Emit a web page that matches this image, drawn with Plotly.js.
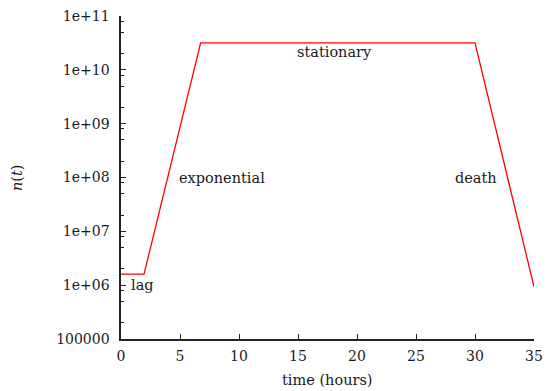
<!DOCTYPE html>
<html>
<head>
<meta charset="utf-8">
<script src="https://cdn.plot.ly/plotly-3.0.1.min.js"></script>
<style>html,body{margin:0;padding:0;background:#fff;}#chart{width:548px;height:391px;}</style>
</head>
<body>
<div id="chart"></div>
<script>
// Growth curve phases (time in hours, population n(t))
const timeHours = [0, 1.95, 6.75, 30, 35];
const population = [1.6e6, 1.6e6, 3.16e10, 3.16e10, 9.3e5];

const xTickVals = [0, 5, 10, 15, 20, 25, 30, 35];
const yTickVals = [1e5, 1e6, 1e7, 1e8, 1e9, 1e10, 1e11];
const yTickText = ['100000', '1e+06', '1e+07', '1e+08', '1e+09', '1e+10', '1e+11'];

const phaseLabels = ['lag', 'exponential', 'stationary', 'death'];
const phaseLabelX = [1.8, 8.6, 18.1, 30.1];
const phaseLabelY = [1e6, 1e8, 2.1e10, 1e8];

const minorVals = [];
for (let e = 5; e < 11; e++) { [2, 5, 8].forEach(m => minorVals.push(m * Math.pow(10, e))); }

const FONT = "DejaVu Serif";
const TXT = '#1a1a1a';

const annotations = phaseLabels.map((t, i) => ({
  x: phaseLabelX[i], y: Math.log10(phaseLabelY[i]), xref: 'x', yref: 'y',
  text: t, showarrow: false, xanchor: 'center', yanchor: 'middle',
  font: {family: FONT, size: 14.5, color: TXT}
}));
annotations.push({
  xref: 'paper', yref: 'paper', x: -(121 - 16.5) / 413, y: 0.5,
  text: '<i>n</i>(<i>t</i>)', textangle: -90, showarrow: false,
  xanchor: 'center', yanchor: 'middle', font: {family: FONT, size: 14.5, color: TXT}
});
annotations.push({
  xref: 'paper', yref: 'paper', x: 0.5, y: -(380 - 339) / 323,
  text: 'time (hours)', showarrow: false,
  xanchor: 'center', yanchor: 'middle', font: {family: FONT, size: 14.5, color: TXT}
});

const trace = {
  x: timeHours, y: population, type: 'scatter', mode: 'lines',
  line: {color: '#ff0000', width: 1.3}, hoverinfo: 'skip'
};

const layout = {
  width: 548, height: 391,
  margin: {l: 121, r: 14, t: 16, b: 52, pad: 0},
  paper_bgcolor: '#fff', plot_bgcolor: '#fff',
  showlegend: false,
  font: {family: FONT, color: TXT},
  xaxis: {
    range: [0, 35], tickmode: 'array', tickvals: xTickVals,
    ticks: 'inside', ticklen: 5, tickwidth: 1, tickcolor: '#222',
    showline: true, linecolor: '#222', linewidth: 1.6,
    showgrid: false, zeroline: false, automargin: false,
    ticklabelstandoff: 4,
    tickfont: {family: FONT, size: 14, color: TXT}
  },
  yaxis: {
    type: 'log', range: [5, 11], tickmode: 'array', tickvals: yTickVals, ticktext: yTickText,
    ticks: 'inside', ticklen: 5, tickwidth: 1, tickcolor: '#222',
    minor: {tickmode: 'array', tickvals: minorVals, ticks: 'inside', ticklen: 3, tickwidth: 1, tickcolor: '#222', showgrid: false},
    showline: true, linecolor: '#222', linewidth: 1.6,
    showgrid: false, zeroline: false, automargin: false,
    ticklabelstandoff: 7,
    tickfont: {family: FONT, size: 14, color: TXT}
  },
  annotations: annotations
};

Plotly.newPlot('chart', [trace], layout, {displayModeBar: false, staticPlot: true});
</script>
</body>
</html>
